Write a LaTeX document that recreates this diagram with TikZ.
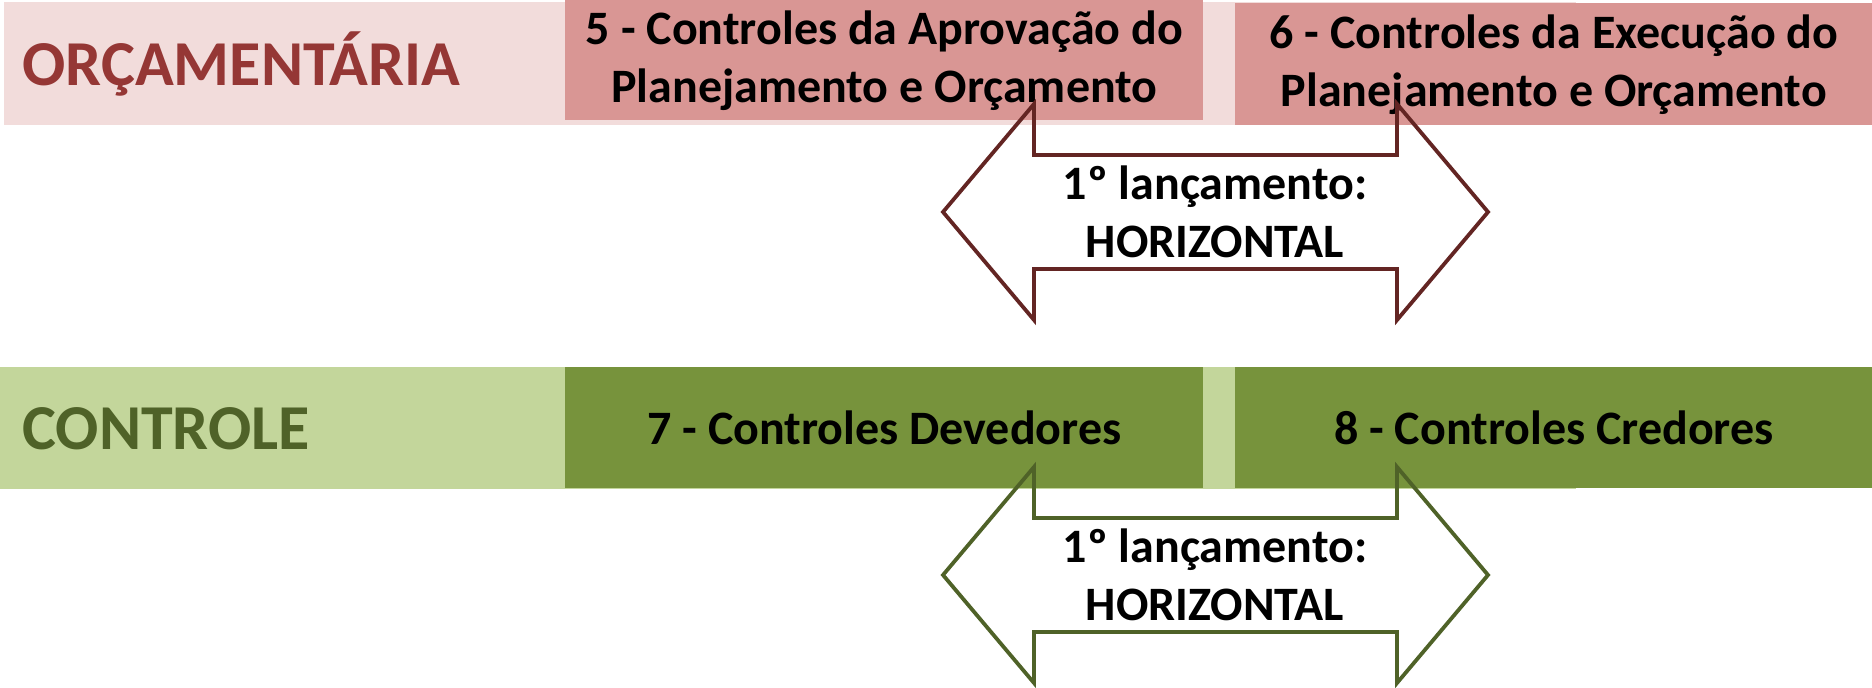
\documentclass[tikz,border=0pt]{standalone}
\usepackage{fontspec}
\setmainfont{Carlito}
\usetikzlibrary{positioning}

\definecolor{rosaclaro}{HTML}{F2DCDB}
\definecolor{rosa}{HTML}{D99694}
\definecolor{vinho}{HTML}{953735}
\definecolor{vinhoesc}{HTML}{632523}
\definecolor{verdeclaro}{HTML}{C3D69B}
\definecolor{verde}{HTML}{77933C}
\definecolor{verdeesc}{HTML}{4F6228}

\newcommand{\setadupla}[2]{%
  \draw[#2,line width=1.9pt] ([shift={(-272,0)}]#1.center)
    -- ++(91,-108) -- ++(0,51) -- ++(363,0) -- ++(0,-51)
    -- ++(91,108) -- ++(-91,108) -- ++(0,-51) -- ++(-363,0) -- ++(0,51) -- cycle;}

\begin{document}
\begin{tikzpicture}[x=0.5pt,y=-0.5pt,
    faixa/.style={rectangle,inner sep=0pt,anchor=north west},
    caixa/.style={rectangle,inner sep=0pt,anchor=north west,align=center,
      minimum width=319pt,font=\bfseries\fontsize{24}{29}\selectfont},
    titulo/.style={inner sep=0pt,anchor=west,font=\bfseries\fontsize{32}{38}\selectfont},
    rotulo/.style={inner sep=0pt,align=center,font=\bfseries\fontsize{24}{29}\selectfont}]
  \useasboundingbox (0,0) rectangle (1872,688);

  % linha orcamentaria
  \node[faixa,fill=rosaclaro,minimum width=786pt,minimum height=61.5pt] (orc) at (4,2) {};
  \node[titulo,text=vinho,right=9pt of orc.west] (torc) {ORÇAMENTÁRIA};
  \node[caixa,fill=rosa,minimum height=60pt] (c5) at (565,0)
    {5 - Controles da Aprovação do\\Planejamento e Orçamento};
  \node[caixa,fill=rosa,minimum width=318.5pt,minimum height=61pt] (c6) at (1235,3)
    {6 - Controles da Execução do\\Planejamento e Orçamento};

  % linha de controle
  \node[faixa,fill=verdeclaro,minimum width=788pt,minimum height=61pt] (ctl) at (0,367) {};
  \node[titulo,text=verdeesc,right=11pt of ctl.west] (tctl) {CONTROLE};
  \node[caixa,fill=verde,minimum height=60.5pt] (c7) at (565,367) {7 - Controles Devedores};
  \node[caixa,fill=verde,minimum width=318.5pt,minimum height=60.5pt] (c8) at (1235,367)
    {8 - Controles Credores};

  % setas
  \node[rotulo] (l1) at (1215,212) {1º lançamento:\\HORIZONTAL};
  \node[rotulo] (l2) at (1215,575) {1º lançamento:\\HORIZONTAL};
  \setadupla{l1}{vinhoesc}
  \setadupla{l2}{verdeesc}
\end{tikzpicture}
\end{document}
